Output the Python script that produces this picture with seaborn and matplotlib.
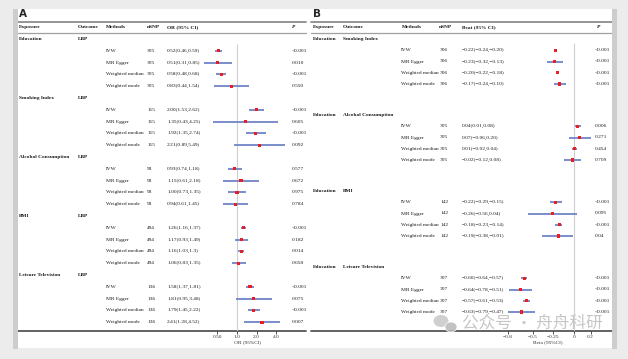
import pandas as pd
import matplotlib.pyplot as plt
import seaborn as sns
from matplotlib.patches import Rectangle, Ellipse

sns.set_theme(style="white")
plt.rcParams["font.family"] = ["Liberation Serif", "DejaVu Serif"]

# ---- dados do painel A (exposicao -> LBP, OR) ----
methods = ["IVW", "MR Egger", "Weighted median", "Weighted mode"]

exposures_a = ["Education", "Smoking Index", "Alcohol Consumption", "BMI", "Leisure Television"]
nsnp_a = [305, 115, 93, 494, 136]
or_est = [["0.52", "0.51", "0.58", "0.83"],
          ["2.00", "1.35", "1.92", "2.21"],
          ["0.93", "1.15", "1.00", "0.94"],
          ["1.26", "1.17", "1.16", "1.06"],
          ["1.58", "1.81", "1.79", "2.41"]]
or_lo = [["0.46", "0.31", "0.48", "0.44"],
         ["1.53", "0.43", "1.35", "0.89"],
         ["0.74", "0.61", "0.73", "0.61"],
         ["1.16", "0.93", "1.03", "0.83"],
         ["1.37", "0.95", "1.45", "1.28"]]
or_hi = [["0.59", "0.85", "0.68", "1.54"],
         ["2.62", "4.25", "2.74", "5.49"],
         ["1.18", "2.18", "1.35", "1.45"],
         ["1.37", "1.49", "1.3", "1.35"],
         ["1.81", "3.48", "2.22", "4.52"]]
p_a = [["<0.001", "0.010", "<0.001", "0.550"],
       ["<0.001", "0.605", "<0.001", "0.092"],
       ["0.577", "0.672", "0.975", "0.784"],
       ["<0.001", "0.182", "0.014", "0.658"],
       ["<0.001", "0.075", "<0.001", "0.007"]]

# ---- dados do painel B (Education -> outcome, Beta) ----
outcomes_b = ["Smoking Index", "Alcohol Consumption", "BMI", "Leisure Television"]
nsnp_b = [306, 305, 142, 307]
b_est = [["-0.22", "-0.23", "-0.20", "-0.17"],
         ["0.04", "0.07", "0.01", "-0.02"],
         ["-0.22", "-0.26", "-0.18", "-0.19"],
         ["-0.60", "-0.64", "-0.57", "-0.63"]]
b_lo = [["-0.24", "-0.32", "-0.22", "-0.24"],
        ["0.01", "-0.06", "-0.02", "-0.12"],
        ["-0.29", "-0.56", "-0.23", "-0.38"],
        ["-0.64", "-0.78", "-0.61", "-0.79"]]
b_hi = [["-0.20", "-0.13", "-0.18", "-0.10"],
        ["0.08", "0.20", "0.04", "0.08"],
        ["-0.15", "0.04", "-0.14", "-0.01"],
        ["-0.57", "-0.51", "-0.53", "-0.47"]]
p_b = [["<0.001", "<0.001", "<0.001", "<0.001"],
       ["0.006", "0.271", "0.454", "0.709"],
       ["<0.001", "0.095", "<0.001", "0.04"],
       ["<0.001", "<0.001", "<0.001", "<0.001"]]

beta_ticks = [-0.8, -0.5, -0.25, 0, 0.2]
or_ticks = [0.5, 1, 2, 4]
or_tick_labels = ["0.50", "1.0", "2.0", "4.0"]

RED = "#ec1c24"
BLUE = "#6f85c6"
FS = 3.85
W, H = 628, 359


def mn(s):
    return s.replace("-", "\u2212")


fig = plt.figure(figsize=(W / 100, H / 100), dpi=100)
fig.patch.set_facecolor("#ececec")
bg = fig.add_axes([0, 0, 1, 1])
bg.set_xlim(0, W)
bg.set_ylim(H, 0)
bg.axis("off")

# fundo branco e bordas cinzas da captura
bg.add_patch(Rectangle((18, 9), 594, 339, fc="white", ec="none", zorder=0))
bg.add_patch(Rectangle((13, 9), 5, 340, fc="#cdcdcd", ec="none", zorder=8))
bg.add_patch(Rectangle((612, 9), 5, 340, fc="#cdcdcd", ec="none", zorder=8))
bg.add_patch(Rectangle((617, 9), 11, 340, fc="#ececec", ec="none", zorder=8))

clip_a = Rectangle((18, 0), 288, H, transform=bg.transData)


def txt(x, y, s, bold=False, italic=False, clip=None):
    t = bg.text(x, y, s, fontsize=FS, va="center", ha="left", color="#1a1a1a",
                fontweight="bold" if bold else "normal",
                fontstyle="italic" if italic else "normal", zorder=3)
    if clip is not None:
        t.set_clip_path(clip)
    return t


def table_lines(x0, x1):
    bg.plot([x0, x1], [22, 22], color="#8c8c8c", lw=1.3, zorder=2)
    bg.plot([x0, x1], [33, 33], color="#a0a0a0", lw=0.9, zorder=2)
    bg.plot([x0, x1], [331, 331], color="#555555", lw=1.3, zorder=2)


def forest_axes(x0, x1, y0, y1):
    ax = fig.add_axes([x0 / W, 1 - y1 / H, (x1 - x0) / W, (y1 - y0) / H])
    ax.set_ylim(y1, y0)
    ax.patch.set_alpha(0)
    for sp in ax.spines.values():
        sp.set_visible(False)
    ax.set_yticks([])
    ax.tick_params(axis="x", bottom=True, length=2, width=0.6, pad=1.2,
                   labelsize=FS, colors="#333333", direction="out")
    return ax


# ================= Painel A =================
bg.text(19, 14, "A", fontsize=7.5, fontweight="bold", family="DejaVu Sans", va="center")
table_lines(18, 306)
for x, s in [(19, "Exposure"), (78, "Outcome"), (106, "Methods"), (147, "nSNP"), (167, "OR (95% CI)")]:
    txt(x, 27, s, bold=True)
txt(292, 27, "P", bold=True, italic=True)

rows_a = []
k = 0
for g, expo in enumerate(exposures_a):
    y = 39 + 11.8 * k
    txt(19, y, expo, bold=True)
    txt(78, y, "LBP", bold=True)
    k += 1
    for i, m in enumerate(methods):
        y = 39 + 11.8 * k
        txt(106, y, m)
        txt(147, y, str(nsnp_a[g]))
        txt(167, y, f"{or_est[g][i]}({or_lo[g][i]},{or_hi[g][i]})")
        txt(292, y, p_a[g][i], clip=clip_a)
        rows_a.append({"y": y, "est": float(or_est[g][i]),
                       "lo": float(or_lo[g][i]), "hi": float(or_hi[g][i])})
        k += 1
df_a = pd.DataFrame(rows_a)

axA = forest_axes(195, 300, 40, 331)
axA.set_xscale("log", base=2)
axA.set_xlim(2 ** ((195 - 237) / 19.7), 2 ** ((300 - 237) / 19.7))
axA.vlines(1, 44, 331, color="#cfcfcf", lw=0.8, zorder=1)
axA.hlines(df_a["y"], df_a["lo"], df_a["hi"], color=BLUE, lw=1.3, zorder=2)
sns.scatterplot(data=df_a, x="est", y="y", marker="s", s=5, color=RED,
                edgecolor="none", ax=axA, zorder=3, legend=False)
axA.set_ylim(331, 40)
axA.set_xticks(or_ticks)
axA.set_xticklabels(or_tick_labels)
axA.minorticks_off()
axA.set_xlabel("OR (95%CI)", fontsize=FS, labelpad=0.3, color="#333333")
axA.set_ylabel("")

# ================= Painel B =================
bg.text(313, 14, "B", fontsize=7.5, fontweight="bold", family="DejaVu Sans", va="center")
table_lines(311, 612)
for x, s in [(313, "Exposure"), (343, "Outcome"), (402, "Methods"), (439, "nSNP"), (462, "Beat (95% CI)")]:
    txt(x, 27, s, bold=True)
txt(597, 27, "P", bold=True, italic=True)

rows_b = []
for g, outc in enumerate(outcomes_b):
    y0 = 39 + 76 * g
    txt(313, y0, "Education", bold=True)
    txt(343, y0, outc, bold=True)
    for i, m in enumerate(methods):
        y = y0 + 11.25 * (i + 1)
        txt(401, y, m)
        txt(440, y, str(nsnp_b[g]))
        txt(462, y, mn(f"{b_est[g][i]}({b_lo[g][i]},{b_hi[g][i]})"))
        txt(595, y, p_b[g][i])
        rows_b.append({"y": y, "est": float(b_est[g][i]),
                       "lo": float(b_lo[g][i]), "hi": float(b_hi[g][i])})
df_b = pd.DataFrame(rows_b)

axB = forest_axes(500, 596, 40, 331)
axB.set_xlim((500 - 574) / 83, (596 - 574) / 83)
axB.vlines(0, 43, 331, color="#cfcfcf", lw=0.8, zorder=1)
axB.hlines(df_b["y"], df_b["lo"], df_b["hi"], color=BLUE, lw=1.3, zorder=2)
sns.scatterplot(data=df_b, x="est", y="y", marker="s", s=5, color=RED,
                edgecolor="none", ax=axB, zorder=3, legend=False)
axB.set_ylim(331, 40)
axB.set_xticks(beta_ticks)
axB.set_xticklabels([mn(f"{t:g}") for t in beta_ticks])
axB.set_xlabel("Beta (95%CI)", fontsize=FS, labelpad=0.3, color="#333333")
axB.set_ylabel("")

# marca d'agua
bg.add_patch(Ellipse((441, 321), 15, 12, fc="#c4c4c4", ec="none", alpha=0.8, zorder=9))
bg.add_patch(Ellipse((451, 327), 12, 10, fc="#b8b8b8", ec="white", lw=0.6, alpha=0.85, zorder=9))
bg.text(462, 323, "公众号 · 舟舟科研", fontsize=12, color="#b4b4b4", alpha=0.75,
        family=["Noto Sans CJK SC", "DejaVu Sans"], va="center", ha="left", zorder=9)

fig.savefig("out.png", dpi=100, facecolor=fig.get_facecolor())
